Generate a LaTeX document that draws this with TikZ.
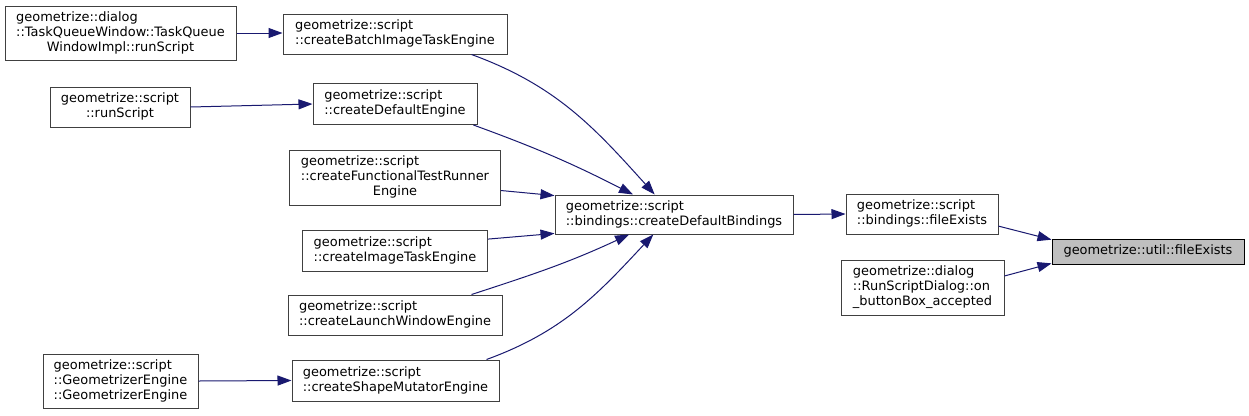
\documentclass[tikz,border=0pt]{standalone}
\usepackage{fontspec}
\setmainfont{DejaVu Sans}
\usetikzlibrary{arrows.meta}
\definecolor{edgeblue}{HTML}{191970}
\definecolor{boxline}{HTML}{404040}
\definecolor{selfill}{HTML}{BFBFBF}
\newcommand{\fnlabel}[1]{\begin{tabular}{@{}l@{}}#1\end{tabular}}
\newcommand{\lastln}[1]{\multicolumn{1}{@{}c@{}}{#1}}

\begin{document}
\begin{tikzpicture}[x=0.75pt, y=-0.75pt,
    fn/.style={draw=boxline, fill=white, rectangle, line width=0.75pt, inner sep=0pt,
        font=\fontsize{9.7}{11.25}\selectfont},
    sel/.style={fn, draw=black, fill=selfill},
    edge/.style={draw=edgeblue, line width=0.75pt, -{Triangle[length=10.5pt, width=7.5pt]}}]
    \path[fill=white] (0,0) rectangle (1249,415);

    \node (tqw) at (120.5,33) [fn, minimum width=173.25pt, minimum height=40.5pt] {\fnlabel{geometrize::dialog\\::TaskQueueWindow::TaskQueue\\\lastln{WindowImpl::runScript}}};
    \node (batch) at (395,34) [fn, minimum width=168pt, minimum height=30pt] {\fnlabel{geometrize::script\\::createBatchImageTaskEngine}};
    \node (runscr) at (120,107) [fn, minimum width=105pt, minimum height=30pt] {\fnlabel{geometrize::script\\\lastln{::runScript}}};
    \node (defeng) at (395,104) [fn, minimum width=123pt, minimum height=30.75pt] {\fnlabel{geometrize::script\\::createDefaultEngine}};
    \node (ftr) at (395,177.5) [fn, minimum width=158.25pt, minimum height=41.25pt] {\fnlabel{geometrize::script\\::createFunctionalTestRunner\\\lastln{Engine}}};
    \node (imgtask) at (395,250.5) [fn, minimum width=138.75pt, minimum height=30.75pt] {\fnlabel{geometrize::script\\::createImageTaskEngine}};
    \node (launch) at (395,315) [fn, minimum width=160.5pt, minimum height=30pt] {\fnlabel{geometrize::script\\::createLaunchWindowEngine}};
    \node (gengine) at (120.5,381) [fn, minimum width=116.25pt, minimum height=40.5pt] {\fnlabel{geometrize::script\\::GeometrizerEngine\\::GeometrizerEngine}};
    \node (shapemut) at (395.5,380.5) [fn, minimum width=155.25pt, minimum height=30.75pt] {\fnlabel{geometrize::script\\::createShapeMutatorEngine}};
    \node (bindings) at (674,214.5) [fn, minimum width=178.5pt, minimum height=29.25pt] {\fnlabel{geometrize::script\\::bindings::createDefaultBindings}};
    \node (bfexists) at (922,214) [fn, minimum width=114pt, minimum height=30pt] {\fnlabel{geometrize::script\\::bindings::fileExists}};
    \node (rsdialog) at (922.5,287.5) [fn, minimum width=122.25pt, minimum height=41.25pt] {\fnlabel{geometrize::dialog\\::RunScriptDialog::on\\\_buttonBox\_accepted}};
    \node (ufexists) at (1148,251.5) [sel, minimum width=144pt, minimum height=18.75pt] {\fnlabel{geometrize::util::fileExists}};

    \draw[edge] (tqw.east) -- (tqw.east -| batch.west);
    \draw[edge] (runscr.east) -- (defeng.west);
    \draw[edge] (gengine.east) -- (shapemut.west);
    \draw[edge] (batch.-15.3) to[out=-20, in=132] (bindings.134.3);
    \draw[edge] (defeng.-15.7) to[out=-20, in=153] (bindings.154.6);
    \draw[edge] (ftr.-7.8) -- (bindings.171.6);
    \draw[edge] (imgtask.7.7) -- (bindings.-171.6);
    \draw[edge] (launch.15.5) to[out=18, in=-155] (bindings.-156.4);
    \draw[edge] (shapemut.13.6) to[out=20, in=-133] (bindings.-136.4);
    \draw[edge] (bindings.east) -- (bfexists.west);
    \draw[edge] (bfexists.-9) -- (ufexists.173.8);
    \draw[edge] (rsdialog.8.7) -- (ufexists.-173.2);
\end{tikzpicture}
\end{document}
